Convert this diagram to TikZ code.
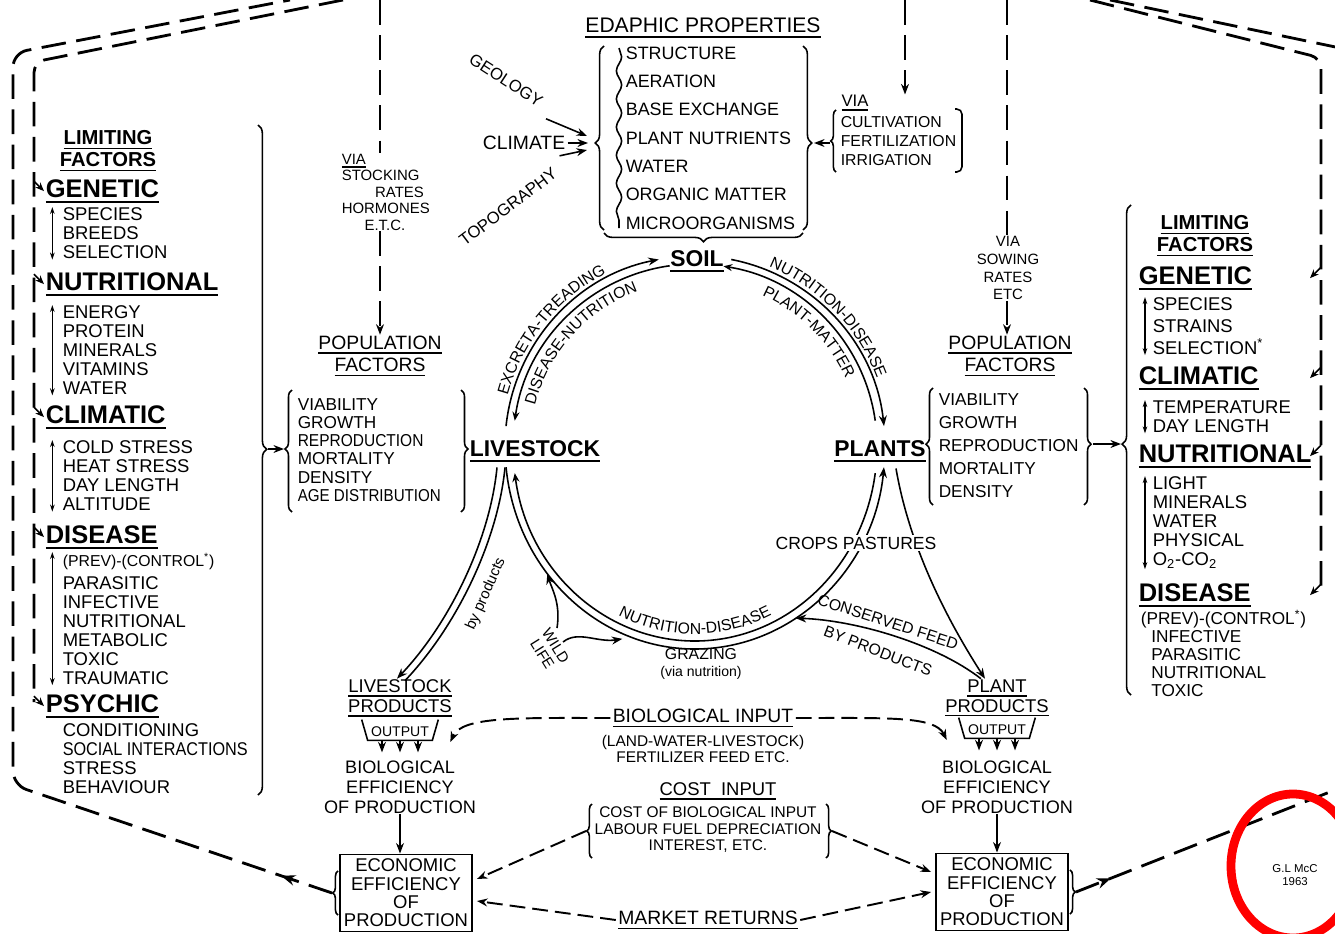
\documentclass[tikz,border=0pt]{standalone}
\usepackage{graphicx}
\usepackage{fontspec}
\setmainfont{Liberation Sans}
\usetikzlibrary{arrows.meta,calc,decorations.pathreplacing,decorations.pathmorphing,decorations.markings,decorations.text}

\newcommand\ulin[2][0.8pt]{\setbox0=\hbox{#2}\leavevmode\rlap{\rule[-0.45ex]{\wd0}{#1}}\box0}
\newcommand\nrw[2][0.9]{\scalebox{#1}[1]{#2}}

\tikzset{
  dashln/.style={line width=1.6pt,dash pattern=on 14pt off 6pt},
  dashl/.style={line width=1.1pt,dash pattern=on 9pt off 4pt},
  arw/.style={-{Stealth[length=6pt,width=4.5pt]}},
  warr/.style={{Stealth[length=5pt,width=4pt]}-},
  dbl/.style={{Stealth[length=4pt,width=2.6pt]}-{Stealth[length=4pt,width=2.6pt]},line width=0.8pt},
  brc/.style 2 args={decorate,decoration={brace,amplitude=#1,aspect=#2}},
  midarr/.style={postaction={decorate},decoration={markings,mark=at position #1 with {\arrow{Stealth[length=8pt,width=6pt]}}}},
  arctxt/.style={decorate,decoration={text along path,text align=center,text={|\fontsize{9}{9}\selectfont|#1}}},
  hdr/.style={font=\fontsize{14.5}{15}\selectfont\bfseries,inner sep=0pt,anchor=base west},
  lsty/.style={font=\fontsize{10.5}{10.8}\selectfont,align=left,inner sep=0pt,anchor=north west},
  limf/.style={font=\fontsize{11.5}{12.5}\selectfont\bfseries,align=center,inner sep=0pt},
  bigw/.style={font=\fontsize{13}{14}\selectfont\bfseries,inner sep=0pt},
  ctr/.style={font=\fontsize{10.5}{11.3}\selectfont,align=center,inner sep=0pt},
  ecobox/.style={draw,line width=1.1pt,font=\fontsize{10.5}{10.4}\selectfont,align=center,inner sep=1pt,minimum width=2.64cm,minimum height=1.54cm},
}

\begin{document}
\begin{tikzpicture}[x=0.02cm,y=-0.02cm,line width=0.9pt]
\useasboundingbox (0,0) rectangle (1335,933);
\clip (0,0) rectangle (1335,933);

% left limiting factors
\node[limf] (limL) at (108,151) {\ulin{LIMITING}\\\ulin{FACTORS}};
\node[hdr] (genL) at (45,197) {\ulin[1.2pt]{GENETIC}};
\node[lsty] (genLl) at (62,207) {SPECIES\\BREEDS\\SELECTION};
\node[hdr] (nutL) at (45,290) {\ulin[1.2pt]{NUTRITIONAL}};
\node[lsty] (nutLl) at (62,305) {ENERGY\\PROTEIN\\MINERALS\\VITAMINS\\WATER};
\node[hdr] (cliL) at (45,423) {\ulin[1.2pt]{CLIMATIC}};
\node[lsty] (cliLl) at (62,440) {COLD STRESS\\HEAT STRESS\\DAY LENGTH\\ALTITUDE};
\node[hdr] (disL) at (45,543) {\ulin[1.2pt]{DISEASE}};
\node[lsty] (disLl) at (62,552) {{\fontsize{9}{9}\selectfont(PREV)-(CONTROL\textsuperscript{*})}\\[2pt]PARASITIC\\INFECTIVE\\NUTRITIONAL\\METABOLIC\\TOXIC\\TRAUMATIC};
\node[hdr] (psyL) at (45,712) {\ulin[1.2pt]{PSYCHIC}};
\node[lsty] (psyLl) at (62,723) {CONDITIONING\\\nrw[0.88]{SOCIAL INTERACTIONS}\\STRESS\\BEHAVIOUR};
\foreach \l in {genLl,nutLl,cliLl,disLl}
  \draw[dbl] ([xshift=-5.5pt]\l.north west) -- ([xshift=-5.5pt]\l.south west);
\draw[brc={5pt}{0.484}] (258,125) -- (258,795);
\coordinate (bLt) at (268,449);

\coordinate (li) at (44,0);
\draw[dashln,rounded corners=6pt] (343,0) -- (34,62) -- (34,702);
\foreach \h in {genL,nutL,cliL,disL,psyL}
  \draw[warr] (\h.west -| li) -- ++(-10,-10);

% population factors, livestock side
\node[ctr,font=\fontsize{11}{13}\selectfont] (popL) at (380,356) {\ulin{POPULATION}\\\ulin{FACTORS}};
\node[lsty,font=\fontsize{9.8}{10.3}\selectfont] (popLl) at (297,398) {VIABILITY\\GROWTH\\\nrw{REPRODUCTION}\\MORTALITY\\DENSITY\\\nrw[0.88]{AGE DISTRIBUTION}};
\draw[brc={4pt}{0.516}] (292,512) -- (292,390);
\draw[brc={4pt}{0.484}] (461,390) -- (461,512);
\coordinate (pLt) at (284,449);
\draw[arw] (bLt) -- (pLt);

\node[font=\fontsize{8.5}{9.4}\selectfont,align=left,inner sep=0pt,anchor=north west] (viaL) at (341,153)
  {\ulin{VIA}\\STOCKING\\\hspace*{19pt}RATES\\HORMONES\\\hspace*{13pt}E.T.C.};
\coordinate (tL) at (380,0);
\draw[dashln] (tL) -- (tL |- viaL.north);
\draw[dashln,arw] (tL |- viaL.south) -- (popL.north);

% edaphic properties
\node[font=\fontsize{12}{12}\selectfont] (edT) at (703,28) {\ulin{EDAPHIC PROPERTIES}};
\node[lsty,font=\fontsize{10.2}{16.1}\selectfont] (edL) at (625,46)
  {STRUCTURE\\AERATION\\BASE EXCHANGE\\PLANT NUTRIENTS\\WATER\\ORGANIC MATTER\\MICROORGANISMS};
\draw[brc={5pt}{0.473}] (604,230) -- (604,46);
\draw[brc={5pt}{0.527}] (803,46) -- (803,230);
\draw[brc={5pt}{0.5}] (803,233) -- (604,233);
\draw[decorate,decoration={snake,segment length=16pt,amplitude=1.5pt}] (619,48) -- (619,228);
\coordinate (edIn) at (592,143);
\coordinate (edR) at (814,143);

\node[rotate=-33,font=\fontsize{9.5}{10}\selectfont,inner sep=0pt] (geo) at (506,80) {GEOLOGY};
\node[font=\fontsize{11}{11}\selectfont,inner sep=1pt] (clim) at (524,143) {CLIMATE};
\node[rotate=37,font=\fontsize{9.5}{10}\selectfont,inner sep=0pt] (topo) at (508,207) {TOPOGRAPHY};
\draw[arw] ([shift={(8,10)}]geo.south east) -- ([shift={(-5,-7)}]edIn);
\draw[arw] (clim.east) -- ([shift={(-4,0)}]edIn);
\draw[arw] ([shift={(8,-10)}]topo.north east) -- ([shift={(-5,7)}]edIn);

\node[font=\fontsize{9.5}{9.5}\selectfont,inner sep=0pt] (viaS) at (855,103) {\ulin{VIA}};
\node[lsty,font=\fontsize{9}{10.8}\selectfont] (viaSl) at (840,116) {CULTIVATION\\FERTILIZATION\\IRRIGATION};
\draw[brc={3pt}{0.5}] (836,172) -- (836,110);
\draw[rounded corners=3pt] (955,109) -| (962,172) -- (955,172);
\coordinate (vS) at (830,143);
\draw[arw] (vS) -- (edR);
\coordinate (tS) at (905,0);
\draw[dashln,arw] (tS) -- (tS |- viaS.north);

% the cycle
\node[bigw] (soil) at (697,261) {\ulin[1pt]{SOIL}};
\node[bigw] (liv) at (535,451) {\ulin[1pt]{LIVESTOCK}};
\node[bigw] (plt) at (880,451) {\ulin[1pt]{PLANTS}};
\coordinate (C) at (695,446);
\draw[arw] ($(C)+(186:190)$) arc[start angle=186,end angle=259,radius=190];
\draw[warr] ($(C)+(188:182)$) arc[start angle=188,end angle=262,radius=182];
\draw[arw] ($(C)+(281:190)$) arc[start angle=281,end angle=354,radius=190];
\draw[warr] ($(C)+(279:182)$) arc[start angle=279,end angle=352,radius=182];
\draw[arw] ($(C)+(174:190 and 203)$) arc[start angle=174,end angle=6,x radius=190,y radius=203];
\draw[warr] ($(C)+(172:182 and 195)$) arc[start angle=172,end angle=8,x radius=182,y radius=195];
\path[arctxt={EXCRETA-TREADING}] ($(C)+(186:194)$) arc[start angle=186,end angle=252,radius=194];
\path[arctxt={DISEASE-NUTRITION}] ($(C)+(188:165)$) arc[start angle=188,end angle=256,radius=165];
\path[arctxt={NUTRITION-DISEASE}] ($(C)+(282:194)$) arc[start angle=282,end angle=350,radius=194];
\path[arctxt={PLANT-MATTER}] ($(C)+(284:165)$) arc[start angle=284,end angle=346,radius=165];
\path[arctxt={NUTRITION-DISEASE}] ($(C)+(140:176 and 188)$) arc[start angle=140,end angle=40,x radius=176,y radius=188];

\node[align=center,font=\fontsize{9}{9.6}\selectfont,inner sep=0pt] (grz) at (701,664) {GRAZING\\{\fontsize{8}{8}\selectfont(via nutrition)}};

\coordinate (lpW) at ($(C)+(141:190 and 203)$);
\coordinate (lpG) at ($(C)+(112:194 and 208)$);
\coordinate (lpC) at ($(C)+(58:190 and 203)$);
\node[rotate=-58,align=center,font=\fontsize{8.5}{9}\selectfont,inner sep=0pt] (wld) at (549,650) {WILD\\LIFE};
\draw[arw] ([shift={(8,-22)}]wld.center) .. controls +(4,-25) and +(4,14) .. (lpW);
\draw[arw] ([shift={(14,-8)}]wld.center) .. controls +(15,-12) and +(-25,4) .. (lpG);

% products
\node[ctr] (lvp) at (400,698) {\ulin{LIVESTOCK}\\\ulin{PRODUCTS}};
\node[ctr] (plp) at (997,698) {\ulin{PLANT}\\\ulin{PRODUCTS}};
\draw[arw] ([shift={(-38,5)}]liv.south) .. controls +(-7,72) and +(53,-56) .. ([shift={(-3,0)}]lvp.north);
\draw ([shift={(-30,5)}]liv.south) .. controls +(-7,72) and +(53,-56) .. ([shift={(5,2)}]lvp.north);
\node[rotate=66,font=\fontsize{8.5}{8.5}\selectfont,inner sep=0pt] (byp) at (486,594) {by products};
\draw[arw] ([shift={(16,6)}]plt.south) .. controls +(12,70) and +(-45,-70) .. ([shift={(-12,0)}]plp.north);
\draw[arw] ([shift={(-16,0)}]plp.north) .. controls +(-45,-35) and +(60,2) .. (lpC);
\node[rotate=-18,font=\fontsize{9}{9}\selectfont,inner sep=0pt] (cfd) at (888,622) {CONSERVED FEED};
\node[rotate=-21,font=\fontsize{9}{9}\selectfont,inner sep=0pt] (bpr) at (878,651) {BY PRODUCTS};
\node[fill=white,inner sep=1pt,font=\fontsize{10}{10}\selectfont] (crp) at (856,543) {CROPS PASTURES};

% population factors, plant side
\node[ctr,font=\fontsize{11}{13}\selectfont] (popR) at (1010,356) {\ulin{POPULATION}\\\ulin{FACTORS}};
\node[lsty,font=\fontsize{9.8}{13}\selectfont] (popRl) at (938,393) {VIABILITY\\GROWTH\\REPRODUCTION\\MORTALITY\\DENSITY};
\draw[brc={4pt}{0.52}] (933,505) -- (933,388);
\draw[brc={4pt}{0.48}] (1084,388) -- (1084,505);
\coordinate (pRt) at (1093,444);
\node[align=center,font=\fontsize{8.5}{10.2}\selectfont,inner sep=0pt] (viaP) at (1008,268) {VIA\\SOWING\\RATES\\ETC};
\coordinate (tR) at (1007,0);
\draw[dashln] (tR) -- (tR |- viaP.north);
\draw[dashln,arw] (tR |- viaP.south) -- (tR |- popR.north);

% right limiting factors
\node[limf] (limR) at (1205,236) {\ulin{LIMITING}\\\ulin{FACTORS}};
\node[hdr] (genR) at (1138,284) {\ulin[1.2pt]{GENETIC}};
\node[lsty,font=\fontsize{10.5}{12.4}\selectfont] (genRl) at (1152,297) {SPECIES\\STRAINS\\SELECTION\textsuperscript{*}};
\node[hdr] (cliR) at (1138,384) {\ulin[1.2pt]{CLIMATIC}};
\node[lsty] (cliRl) at (1152,400) {TEMPERATURE\\DAY LENGTH};
\node[hdr] (nutR) at (1138,462) {\ulin[1.2pt]{NUTRITIONAL}};
\node[lsty] (nutRl) at (1152,476) {LIGHT\\MINERALS\\WATER\\PHYSICAL\\O\textsubscript{2}-CO\textsubscript{2}};
\node[hdr] (disR) at (1138,601) {\ulin[1.2pt]{DISEASE}};
\node[lsty,font=\fontsize{9.8}{10.2}\selectfont] (disRl) at (1140,609)
  {(PREV)-(CONTROL\textsuperscript{*})\\\hspace*{6pt}INFECTIVE\\\hspace*{6pt}PARASITIC\\\hspace*{6pt}NUTRITIONAL\\\hspace*{6pt}TOXIC};
\foreach \l in {genRl,cliRl,nutRl}
  \draw[dbl] ([xshift=-4pt]\l.north west) -- ([xshift=-4pt]\l.south west);
\draw[brc={5pt}{0.512}] (1131,695) -- (1131,205);
\coordinate (bRt) at (1121,444);
\draw[arw] (pRt) -- (bRt);

\coordinate (ri) at (1310,0);
\draw[dashln,rounded corners=6pt] (1090,0) -- (1321,58) -- (1321,588);
\foreach \h in {genR,cliR,nutR,disR}
  \draw[warr] (\h.east -| ri) -- ++(11,-11);
\draw[dashln] (1110,0) -- (1345,49);

% output and efficiency
\node[font=\fontsize{8}{8}\selectfont,inner sep=1.5pt] (outL) at (400,732) {OUTPUT};
\draw ([shift={(-6,-4)}]outL.north west) -- (outL.south west) -- (outL.south east) -- ([shift={(6,-4)}]outL.north east);
\foreach \dx in {-18,0,18}
  \draw[arw] ([shift={(\dx,0)}]outL.south) -- ++(0,12);
\node[ctr,font=\fontsize{10.3}{11.3}\selectfont] (bioL) at (400,787) {BIOLOGICAL\\EFFICIENCY\\OF PRODUCTION};
\node[ecobox] (ecoL) at (406,893) {ECONOMIC\\EFFICIENCY\\OF\\PRODUCTION};
\draw[arw] (bioL.south) -- (bioL.south |- ecoL.north);

\node[font=\fontsize{8}{8}\selectfont,inner sep=1.5pt] (outR) at (997,730) {OUTPUT};
\draw ([shift={(-6,-4)}]outR.north west) -- (outR.south west) -- (outR.south east) -- ([shift={(6,-4)}]outR.north east);
\foreach \dx in {-18,0,18}
  \draw[arw] ([shift={(\dx,0)}]outR.south) -- ++(0,12);
\node[ctr,font=\fontsize{10.3}{11.3}\selectfont] (bioR) at (997,787) {BIOLOGICAL\\EFFICIENCY\\OF PRODUCTION};
\node[ecobox] (ecoR) at (1002,892) {ECONOMIC\\EFFICIENCY\\OF\\PRODUCTION};
\draw[arw] (bioR.south) -- (bioR.south |- ecoR.north);

\draw[brc={3pt}{0.5}] ([shift={(-1,22)}]ecoL.west) -- ([shift={(-1,-22)}]ecoL.west);
\coordinate (ecoLt) at ([shift={(-7,0)}]ecoL.west);
\draw[dashln,rounded corners=8pt,midarr=0.04] (ecoLt) -- (13,785) -- (13,53) -- (290,0);
\draw[brc={3pt}{0.5}] ([shift={(1,-22)}]ecoR.east) -- ([shift={(1,22)}]ecoR.east);
\coordinate (ecoRt) at ([shift={(7,0)}]ecoR.east);
\draw[dashln,midarr=0.13] (ecoRt) -- (1345,786);

% inputs and returns
\node[font=\fontsize{11}{11}\selectfont,inner sep=1pt] (bin) at (703,718) {\ulin{BIOLOGICAL INPUT}};
\node[align=center,font=\fontsize{8.8}{9.2}\selectfont,inner sep=0pt] (binl) at (703,749) {(LAND-WATER-LIVESTOCK)\\FERTILIZER FEED ETC.};
\draw[dashl,arw] (bin.west) .. controls (520,718) and (462,716) .. ([shift={(18,10)}]outL.east);
\draw[dashl,arw] (bin.east) .. controls (890,718) and (935,716) .. ([shift={(-18,10)}]outR.west);

\node[font=\fontsize{10.5}{10.5}\selectfont,inner sep=1pt] (cin) at (718,791) {\ulin{COST\ \ INPUT}};
\node[align=center,font=\fontsize{8.8}{9.4}\selectfont,inner sep=0pt] (cinl) at (708,830) {COST OF BIOLOGICAL INPUT\\LABOUR FUEL DEPRECIATION\\INTEREST, ETC.};
\draw[brc={3pt}{0.5}] (592,858) -- (592,804);
\draw[brc={3pt}{0.5}] (826,804) -- (826,858);
\coordinate (cL) at (586,831);
\coordinate (cR) at (832,831);
\draw[dashl,arw] (cL) -- ([shift={(4,-14)}]ecoL.east);
\draw[dashl,arw] (cR) -- ([shift={(-4,-20)}]ecoR.west);

\node[font=\fontsize{11}{11}\selectfont,inner sep=1pt] (mkt) at (708,920) {\ulin{MARKET RETURNS}};
\draw[dashl,arw] (mkt.west) -- ([shift={(4,8)}]ecoL.east);
\draw[dashl,arw] (mkt.east) -- ([shift={(-4,0)}]ecoR.west);

% signature
\draw[red,line width=5pt] (1293,866) ellipse [x radius=62,y radius=72];
\node[align=center,font=\fontsize{6.5}{7.5}\selectfont,inner sep=0pt] (sig) at (1295,875) {G.L McC\\1963};
\end{tikzpicture}
\end{document}
